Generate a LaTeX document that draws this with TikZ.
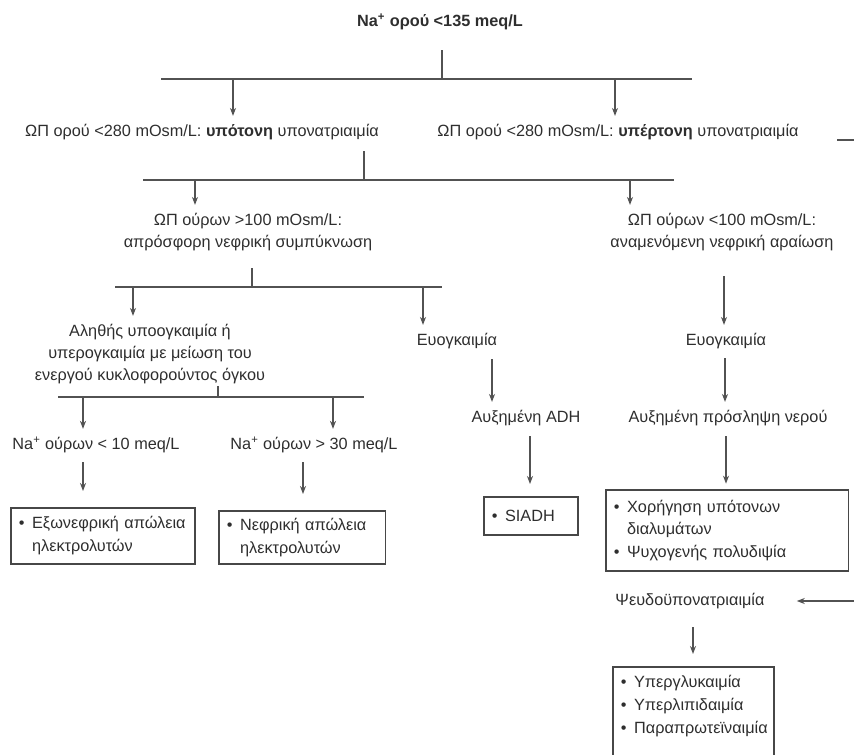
\documentclass[tikz,border=0pt]{standalone}
\usepackage{fontspec}
\setmainfont{Liberation Sans}
\usetikzlibrary{arrows.meta,positioning,calc}
\newcommand{\itm}{\makebox[10pt][l]{•}}

\begin{document}
\begin{tikzpicture}[x=0.75pt,y=-0.75pt,
    >={Stealth[length=6pt,width=4.5pt]},
    txt/.style={font=\fontsize{12.2}{16.5}\selectfont, text=black!82, inner sep=0pt, align=center},
    bx/.style={draw=black!72, line width=1.2pt, font=\fontsize{12.2}{17}\selectfont, text=black!82,
        align=left, anchor=north west, inner xsep=6pt, inner ysep=0pt},
    ln/.style={draw=black!68, line width=1pt},
    arr/.style={ln, ->, shorten >=6pt},
    barr/.style={ln, ->, shorten >=12pt}]
    \useasboundingbox (0,0) rectangle (854,754);
    \clip (0,0) rectangle (854,754);
    % serum sodium
    \node[txt] (na) at (440,22) {\textbf{Na\textsuperscript{+} ορού <135 meq/L}};
    \node[txt] (hypo) at (202,132) {ΩΠ ορού <280 mOsm/L: \textbf{υπότονη} υπονατριαιμία};
    \node[txt] (hyper) at (618,132) {ΩΠ ορού <280 mOsm/L: \textbf{υπέρτονη} υπονατριαιμία};
    \coordinate (s1) at (442,50);
    \coordinate (b1l) at (161,79);
    \coordinate (b1r) at (692,79);
    \coordinate (a1) at (233,79);
    \coordinate (a2) at (615,79);
    \draw[ln] (s1) -- (s1 |- b1l);
    \draw[ln] (b1l) -- (b1r);
    \draw[arr] (a1) -- (a1 |- hypo.north);
    \draw[arr] (a2) -- (a2 |- hyper.north);
    % urine osmolality
    \node[txt] (uhi) at (248,232) {ΩΠ ούρων >100 mOsm/L:\\απρόσφορη νεφρική συμπύκνωση};
    \node[txt] (ulo) at (722,232) {ΩΠ ούρων <100 mOsm/L:\\αναμενόμενη νεφρική αραίωση};
    \coordinate (s2) at (364,151);
    \coordinate (b2l) at (143,180);
    \coordinate (b2r) at (674,180);
    \coordinate (a3) at (195,180);
    \coordinate (a4) at (630,180);
    \draw[ln] (s2) -- (s2 |- b2l);
    \draw[ln] (b2l) -- (b2r);
    \draw[arr] (a3) -- (a3 |- uhi.north);
    \draw[arr] (a4) -- (a4 |- ulo.north);
    % volume status
    \node[txt] (hypov) at (150,354) {Αληθής υποογκαιμία ή\\υπερογκαιμία με μείωση του\\ενεργού κυκλοφορούντος όγκου};
    \node[txt] (euv1) at (457,341) {Ευογκαιμία};
    \node[txt] (euv2) at (726,341) {Ευογκαιμία};
    \coordinate (s3) at (252,268);
    \coordinate (b3l) at (115,287);
    \coordinate (b3r) at (442,287);
    \coordinate (a5) at (133,287);
    \coordinate (a6) at (423,287);
    \coordinate (a7) at (724,276);
    \draw[ln] (s3) -- (s3 |- b3l);
    \draw[ln] (b3l) -- (b3r);
    \draw[arr] (a5) -- (a5 |- hypov.north);
    \draw[arr] (a6) -- (a6 |- euv1.north);
    \draw[arr] (a7) -- (a7 |- euv2.north);
    % next level
    \node[txt] (adh) at (526,418) {Αυξημένη ADH};
    \node[txt] (water) at (728,418) {Αυξημένη πρόσληψη νερού};
    \coordinate (a8) at (492,359);
    \coordinate (a9) at (725,358);
    \draw[arr] (a8) -- (a8 |- adh.north);
    \draw[arr] (a9) -- (a9 |- water.north);
    % urine sodium
    \node[txt] (nalo) at (96,445) {Na\textsuperscript{+} ούρων < 10 meq/L};
    \node[txt] (nahi) at (314,445) {Na\textsuperscript{+} ούρων > 30 meq/L};
    \coordinate (s4) at (218,386);
    \coordinate (b4l) at (58,397);
    \coordinate (b4r) at (364,397);
    \coordinate (a10) at (83,397);
    \coordinate (a11) at (333,397);
    \draw[ln] (s4) -- (s4 |- b4l);
    \draw[ln] (b4l) -- (b4r);
    \draw[arr] (a10) -- (a10 |- nalo.north);
    \draw[arr] (a11) -- (a11 |- nahi.north);
    % causes
    \node[bx, minimum width=138pt, minimum height=42pt, text width=126pt] (extra) at (10,507)
        {\itm Εξωνεφρική απώλεια\\\hspace*{10pt}ηλεκτρολυτών};
    \node[bx, minimum width=125pt, minimum height=40pt, text width=113pt] (renal) at (218,510)
        {\itm Νεφρική απώλεια\\\hspace*{10pt}ηλεκτρολυτών};
    \node[bx, minimum width=70.5pt, minimum height=28.5pt, text width=58.5pt] (siadh) at (483,496)
        {\itm SIADH};
    \node[bx, minimum width=182pt, minimum height=61pt, text width=170pt] (fluids) at (605,489)
        {\itm Χορήγηση υπότονων\\\hspace*{10pt}διαλυμάτων\\\itm Ψυχογενής πολυδιψία};
    \coordinate (a12) at (83,462);
    \coordinate (a13) at (303,462);
    \coordinate (a14) at (530,436);
    \coordinate (a15) at (726,436);
    \draw[barr] (a12) -- (a12 |- extra.north);
    \draw[barr] (a13) -- (a13 |- renal.north);
    \draw[barr, shorten >=9pt] (a14) -- (a14 |- siadh.north);
    \draw[barr, shorten >=4pt] (a15) -- (a15 |- fluids.north);
    % pseudohyponatremia
    \node[txt] (pseudo) at (690,601) {Ψευδοϋπονατριαιμία};
    \node[bx, minimum width=121pt, minimum height=73.5pt, text width=109pt] (lab) at (612,666)
        {\itm Υπεργλυκαιμία\\\itm Υπερλιπιδαιμία\\\itm Παραπρωτεϊναιμία\\\mbox{}};
    \coordinate (e1) at (837,140);
    \coordinate (e2) at (854,140);
    \coordinate (e3) at (854,601);
    \coordinate (a16) at (693,627);
    \draw[ln] (e1) -- (e2);
    \draw[arr, shorten >=24pt] (e3) -- (pseudo.east);
    \draw[barr, shorten >=9pt] (a16) -- (a16 |- lab.north);
\end{tikzpicture}
\end{document}
